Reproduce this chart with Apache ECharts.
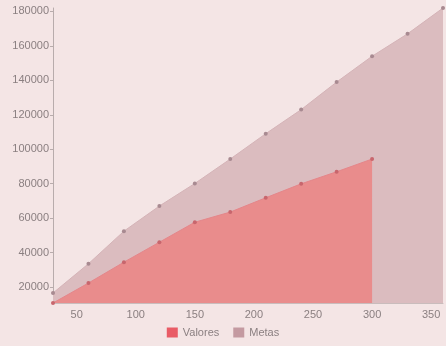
<!DOCTYPE html>
<html>
<head>
<meta charset="utf-8">
<script src="https://cdn.jsdelivr.net/npm/echarts@6/dist/echarts.min.js"></script>
<style>
html,body{margin:0;padding:0;background:#f4e5e5;}
#c{width:446px;height:346px;}
</style>
</head>
<body>
<div id="c"></div>
<script>
const days = [30, 60, 90, 120, 150, 180, 210, 240, 270, 300, 330, 360];
const valores = [10700, 22300, 34400, 46000, 57600, 63500, 71800, 79900, 86900, 94300];
const metas = [16500, 33500, 52400, 67000, 80100, 94300, 109000, 123000, 139000, 154000, 167000, 182000];
const legendNames = ['Valores', 'Metas'];

const valoresData = valores.map((v, i) => [days[i], v]);
const metasData = metas.map((v, i) => [days[i], v]);

const chart = echarts.init(document.getElementById('c'), null, {renderer: 'canvas'});
chart.setOption({
  backgroundColor: '#f4e5e5',
  animation: false,
  grid: {left: 53, right: 3, top: 8, bottom: 43, containLabel: false},
  legend: {
    data: [
      {name: legendNames[0], itemStyle: {color: '#e95c66'}},
      {name: legendNames[1], itemStyle: {color: '#c49aa1'}}
    ],
    bottom: 3,
    left: 'center',
    itemWidth: 11,
    itemHeight: 10,
    itemGap: 14,
    icon: 'rect',
    textStyle: {color: '#8a7f80', fontSize: 11, fontFamily: 'Liberation Sans'}
  },
  xAxis: {
    type: 'value',
    min: 'dataMin',
    max: 'dataMax',
    splitLine: {show: false},
    axisLine: {lineStyle: {color: '#c9bcbc'}},
    axisTick: {show: true, inside: true, length: 4, lineStyle: {color: '#c9bcbc'}},
    axisLabel: {color: '#8a7f80', fontSize: 11, margin: 6, showMinLabel: false, showMaxLabel: false, fontFamily: 'Liberation Sans'}
  },
  yAxis: {
    type: 'value',
    min: 'dataMin',
    max: 'dataMax',
    splitNumber: 9,
    splitLine: {show: false},
    axisLine: {show: true, lineStyle: {color: '#b8acac'}},
    axisTick: {show: true, length: 3, lineStyle: {color: '#b8acac'}},
    axisLabel: {color: '#8a7f80', fontSize: 11, margin: 4, showMinLabel: false, showMaxLabel: false, fontFamily: 'Liberation Sans', formatter: v => String(v)}
  },
  series: [
    {
      name: 'Metas',
      type: 'line',
      data: metasData,
      symbol: 'circle',
      symbolSize: 4,
      showSymbol: true,
      itemStyle: {color: '#a88a91', borderWidth: 0},
      lineStyle: {width: 1, color: '#d4b3b7'},
      areaStyle: {color: '#dbbcbf', opacity: 1},
      emphasis: {disabled: true}
    },
    {
      name: 'Valores',
      type: 'line',
      data: valoresData,
      symbol: 'circle',
      symbolSize: 4,
      showSymbol: true,
      itemStyle: {color: '#c8666d', borderWidth: 0},
      lineStyle: {width: 1, color: '#e4868a'},
      areaStyle: {color: '#e98c8c', opacity: 1},
      emphasis: {disabled: true}
    }
  ]
});
</script>
</body>
</html>
